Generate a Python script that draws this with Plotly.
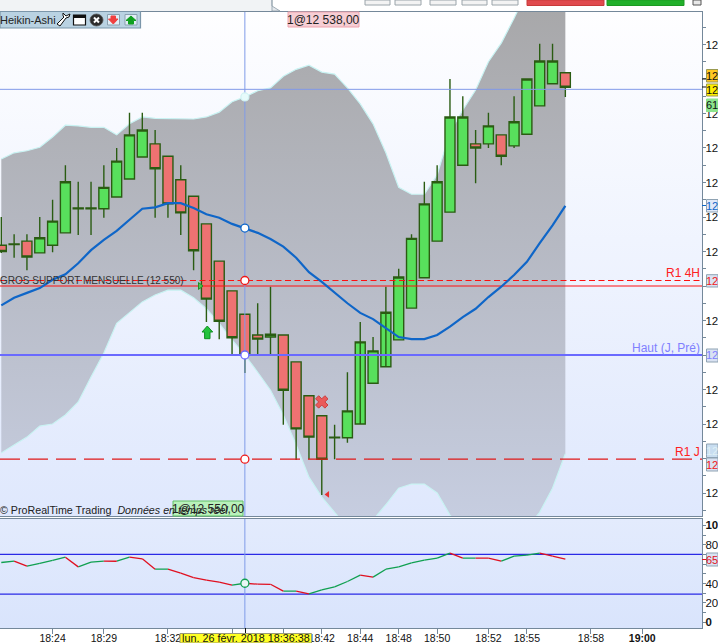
import plotly.graph_objs as go

W = 718
H = 643
FONT = "Liberation Sans"

# candles, left to right
opens = [12555.9, 12556.1, 12556.5, 12554.8, 12555.9, 12557.7, 12561.3, 12561.3, 12561.2, 12562.9, 12565.5, 12568.7, 12570.6, 12568.8, 12565.4, 12563.0, 12559.0, 12553.6, 12549.3, 12545.9, 12542.9, 12542.6, 12542.9, 12539.0, 12534.1, 12531.2, 12528.1, 12528.0, 12530.0, 12535.9, 12538.3, 12542.2, 12546.8, 12551.2, 12556.5, 12560.7, 12567.5, 12570.6, 12570.6, 12571.9, 12570.3, 12572.0, 12576.1, 12579.3, 12580.9]
closes = [12555.0, 12556.0, 12554.2, 12557.0, 12559.4, 12565.1, 12561.2, 12561.2, 12564.3, 12568.1, 12571.9, 12572.6, 12567.0, 12561.9, 12560.6, 12555.1, 12548.1, 12544.9, 12542.5, 12540.0, 12542.3, 12543.0, 12534.9, 12529.3, 12528.1, 12524.9, 12528.0, 12531.9, 12541.9, 12540.6, 12546.2, 12551.3, 12556.9, 12561.9, 12565.1, 12574.5, 12574.5, 12570.0, 12573.2, 12568.8, 12573.8, 12580.0, 12582.6, 12582.6, 12578.8]
highs = [12560.0, 12557.5, 12557.5, 12560.0, 12562.5, 12567.5, 12565.1, 12565.1, 12567.5, 12570.0, 12575.1, 12575.1, 12572.6, 12568.8, 12567.5, 12563.0, 12559.0, 12553.6, 12549.3, 12545.9, 12547.5, 12549.9, 12542.9, 12539.0, 12534.1, 12531.2, 12529.9, 12537.5, 12544.8, 12542.6, 12549.9, 12552.5, 12557.5, 12565.1, 12567.5, 12580.0, 12577.5, 12572.6, 12575.1, 12571.9, 12577.5, 12580.0, 12585.1, 12585.1, 12580.9]
lows = [12554.8, 12554.1, 12552.3, 12554.9, 12554.9, 12557.7, 12557.4, 12557.4, 12559.9, 12562.9, 12565.5, 12568.7, 12559.9, 12559.9, 12557.4, 12552.3, 12544.8, 12542.3, 12540.0, 12537.4, 12540.0, 12540.1, 12529.9, 12524.8, 12524.9, 12519.7, 12524.9, 12527.3, 12541.9, 12535.9, 12546.2, 12542.2, 12546.8, 12551.3, 12556.5, 12560.7, 12567.5, 12564.9, 12570.0, 12567.5, 12570.0, 12572.0, 12576.1, 12579.3, 12577.4]

band_upper = [12568.4, 12569.3, 12569.6, 12570.1, 12571.6, 12573.3, 12573.2, 12573.0, 12573.0, 12571.9, 12573.5, 12574.5, 12574.3, 12574.3, 12574.3, 12574.2, 12574.5, 12575.2, 12576.7, 12577.4, 12578.3, 12578.7, 12580.4, 12581.4, 12582.0, 12581.0, 12580.7, 12578.7, 12576.4, 12573.5, 12569.3, 12564.3, 12563.3, 12563.3, 12566.1, 12572.3, 12575.5, 12578.4, 12582.5, 12585.2, 12588.8, 12592.9, 12596.5, 12599.4, 12603.0]
band_lower = [12525.8, 12527.0, 12528.1, 12529.7, 12530.0, 12531.3, 12533.2, 12536.8, 12540.3, 12544.6, 12546.2, 12547.7, 12548.7, 12549.4, 12549.4, 12548.3, 12546.7, 12544.6, 12542.2, 12540.0, 12537.5, 12534.9, 12531.3, 12527.0, 12522.3, 12519.4, 12517.2, 12514.9, 12513.9, 12516.1, 12518.3, 12520.7, 12521.3, 12521.3, 12520.0, 12516.8, 12514.6, 12513.2, 12512.5, 12512.5, 12513.2, 12514.9, 12517.2, 12520.7, 12525.7]
moving_avg = [12547.2, 12548.3, 12549.0, 12549.7, 12550.9, 12551.7, 12553.3, 12555.2, 12556.7, 12558.0, 12559.6, 12561.2, 12561.4, 12562.0, 12562.0, 12561.3, 12560.4, 12559.9, 12559.0, 12558.4, 12557.7, 12556.8, 12555.7, 12554.1, 12552.0, 12550.6, 12549.0, 12547.5, 12546.1, 12545.2, 12543.9, 12542.6, 12542.3, 12542.3, 12542.9, 12544.1, 12545.5, 12546.7, 12548.4, 12549.9, 12551.6, 12553.5, 12556.2, 12558.8, 12561.6]
rsi = [61.7, 63.1, 57.9, 60.7, 63.8, 67.2, 57.2, 62.1, 63.1, 63.0, 67.2, 65.5, 54.8, 54.9, 50.7, 46.2, 43.4, 41.4, 38.3, 40.3, 39.3, 39.2, 32.1, 32.2, 29.3, 33.4, 36.6, 42.1, 48.6, 46.6, 54.8, 57.2, 61.4, 64.1, 66.2, 71.4, 66.2, 66.3, 66.2, 63.1, 68.3, 69.3, 71.4, 68.3, 65.2]

r1_4h = 12550.8
monthly_support = 12550.0
haut_j = 12540.0
r1_j = 12524.9
cross_price = 12578.5
cross_idx = 19
rsi_levels = [70, 29]

time_idx = [4, 8, 13, 18, 22, 25, 28, 31, 34, 38, 41, 46, 50]
time_labels = ["18:24", "18:29", "18:32", "", "", "18:42", "18:44", "18:48", "18:50", "18:52", "18:55", "18:58", "<b>19:00</b>"]

# labels under the price tags are left blank, the tags carry them
price_ticks = [12517.5 + 2.5 * i for i in range(29)]
tagged = [12580, 12550, 12540, 12525]
price_labels = ["12" if p % 5 == 0 and p not in tagged else "" for p in price_ticks]
rsi_ticks = [0, 10, 20, 30, 40, 50, 60, 70, 80, 90, 100]
rsi_labels = ["<b>0</b>", "", "20", "", "40", "", "", "", "80", "", "<b>10</b>"]

idx = list(range(len(opens)))
x_range = [-0.1014, 54.66]
y_range = [12516.67, 12589.78]
rsi_range = [-5.9, 106.6]
dom_x = [0, 702 / W]
dom_y = [1 - 516 / H, 1 - 11.5 / H]
dom_y2 = [1 - 628 / H, 1 - 519 / H]
AXIS = "#74889a"


def X(px):
    return px / W


def Y(py):
    return 1 - py / H


def box(x0, y0, x1, y1, fill, line=None, lw=1):
    return dict(type="rect", xref="paper", yref="paper", x0=X(x0), x1=X(x1), y0=Y(y0), y1=Y(y1),
                fillcolor=fill, line=dict(color=line or fill, width=lw if line else 0))


def path(points, fill, line=None, lw=1, close=True):
    d = "M " + " L ".join(f"{X(a):.5f},{Y(b):.5f}" for a, b in points) + (" Z" if close else "")
    return dict(type="path", xref="paper", yref="paper", path=d, fillcolor=fill,
                line=dict(color=line or fill, width=lw))


def label(px, py, text, size=12, color="#111111", anchor="left"):
    return dict(xref="paper", yref="paper", x=X(px), y=Y(py), text=text, showarrow=False, xanchor=anchor,
                yanchor="middle", font=dict(family=FONT, size=size, color=color), borderpad=0, borderwidth=0)


def flat(name, x, y, color, width=1, dash="solid"):
    return go.Scatter(x=x, y=y, mode="lines", line=dict(color=color, width=width, dash=dash), name=name,
                      xaxis="x4", yaxis="y4", hoverinfo="skip", showlegend=False)


fig = go.Figure()

# gradient backgrounds
fig.add_trace(go.Scatter(x=[x_range[0], x_range[1], x_range[1], x_range[0]],
                         y=[y_range[0], y_range[0], y_range[1], y_range[1]],
                         mode="lines", fill="toself", line=dict(width=0), hoverinfo="skip", showlegend=False,
                         fillgradient=dict(type="vertical", start=y_range[0], stop=y_range[1],
                                           colorscale=[[0, "#dfe8fd"], [1, "#fefeff"]])))
fig.add_trace(go.Scatter(x=[x_range[0], x_range[1], x_range[1], x_range[0]],
                         y=[rsi_range[0], rsi_range[0], rsi_range[1], rsi_range[1]],
                         mode="lines", fill="toself", line=dict(width=0), hoverinfo="skip", showlegend=False,
                         xaxis="x2", yaxis="y2",
                         fillgradient=dict(type="vertical", start=rsi_range[0], stop=rsi_range[1],
                                           colorscale=[[0, "#d9e4fc"], [1, "#e3ebfd"]])))

# bollinger band
fig.add_trace(go.Scatter(x=idx, y=band_lower, mode="lines", line=dict(color="#c9f3f3", width=1.2),
                         hoverinfo="skip", showlegend=False))
fig.add_trace(go.Scatter(x=idx, y=band_upper, mode="lines", line=dict(color="#c9f3f3", width=1.2),
                         fill="tonexty", hoverinfo="skip", showlegend=False,
                         fillgradient=dict(type="vertical", start=y_range[0], stop=y_range[1],
                                           colorscale=[[0, "#c6cde0"], [1, "#a8a8aa"]])))

# rsi, split in rising / falling parts
up_x, up_y, down_x, down_y = [], [], [], []
for i in idx[:-1]:
    if rsi[i + 1] >= rsi[i]:
        up_x += [i, i + 1, None]
        up_y += [rsi[i], rsi[i + 1], None]
    else:
        down_x += [i, i + 1, None]
        down_y += [rsi[i], rsi[i + 1], None]
for lvl in rsi_levels:
    fig.add_trace(go.Scatter(x=x_range, y=[lvl, lvl], mode="lines", line=dict(color="#2a2ae6", width=1.2),
                             xaxis="x2", yaxis="y2", hoverinfo="skip", showlegend=False))
fig.add_trace(go.Scatter(x=[cross_idx, cross_idx], y=rsi_range, mode="lines", line=dict(color="#7f9be8", width=1),
                         xaxis="x2", yaxis="y2", hoverinfo="skip", showlegend=False))
fig.add_trace(go.Scatter(x=up_x, y=up_y, mode="lines", line=dict(color="#10a050", width=1.3),
                         xaxis="x2", yaxis="y2", hoverinfo="skip", showlegend=False))
fig.add_trace(go.Scatter(x=down_x, y=down_y, mode="lines", line=dict(color="#e01020", width=1.3),
                         xaxis="x2", yaxis="y2", hoverinfo="skip", showlegend=False))
fig.add_trace(go.Scatter(x=[cross_idx], y=[rsi[cross_idx]], mode="markers", xaxis="x2", yaxis="y2",
                         marker=dict(size=8, color="#eaf6f4", line=dict(color="#10a050", width=1.3)),
                         hoverinfo="skip", showlegend=False))

# candles sit on an overlay so they stay above the band
fig.add_trace(go.Candlestick(x=idx, open=opens, high=highs, low=lows, close=closes, xaxis="x3", yaxis="y3",
                             whiskerwidth=0, hoverinfo="skip", showlegend=False,
                             increasing=dict(line=dict(color="#2a5c12", width=1.4), fillcolor="#58e05c"),
                             decreasing=dict(line=dict(color="#2a5c12", width=1.4), fillcolor="#ee7272")))

# levels, crosshair and moving average on top
fig.add_trace(flat("R1 4H", x_range, [r1_4h, r1_4h], "#ff1010", 1.2, "6px,3.5px"))
fig.add_trace(flat("support", x_range, [monthly_support, monthly_support], "#ff1010", 1.2))
fig.add_trace(flat("Haut (J, Pré)", x_range, [haut_j, haut_j], "#6a6aff", 2))
fig.add_trace(flat("R1 J", x_range, [r1_j, r1_j], "#e01818", 1.2, "20px,8px"))
fig.add_trace(flat("cross h", x_range, [cross_price, cross_price], "#8199e8", 1))
fig.add_trace(flat("cross v", [cross_idx, cross_idx], y_range, "#7f9be8", 1))
fig.add_trace(flat("MM", idx, moving_avg, "#0f66c8", 2.2))
fig.add_trace(go.Scatter(x=[cross_idx] * 5,
                         y=[moving_avg[cross_idx], band_upper[cross_idx], haut_j, r1_4h, r1_j],
                         mode="markers", xaxis="x4", yaxis="y4", hoverinfo="skip", showlegend=False,
                         marker=dict(size=8, color=["#ffffff", "#e6fbfb", "#ffffff", "#ffffff", "#ffffff"],
                                     line=dict(color=["#0f66c8", "#d2f3f3", "#6a6aff", "#f01818", "#f01818"], width=1.3))))
fig.add_trace(go.Scatter(x=[25], y=[12533.2], mode="markers", xaxis="x4", yaxis="y4", hoverinfo="skip", showlegend=False,
                         marker=dict(symbol="x", size=11, color="#ea5a5a", line=dict(color="#c84040", width=1))))
fig.add_trace(go.Scatter(x=[25.45], y=[12519.8], mode="markers", xaxis="x4", yaxis="y4", hoverinfo="skip", showlegend=False,
                         marker=dict(symbol="triangle-left", size=6, color="#e83030")))
fig.add_trace(go.Scatter(x=[15.5], y=[12550.0], mode="markers", xaxis="x4", yaxis="y4", hoverinfo="skip", showlegend=False,
                         marker=dict(symbol="triangle-right", size=6, color="#50c050", line=dict(color="#209020", width=1))))

# window furniture in pixels
shapes = [
    box(0, 0, 272, 11, "#f1f3f5"),
    path([(272, 0), (272, 6), (280, 11), (272, 11)], "#e4e8ec", "#8a9aa6", 0.8),
    box(365, 0, 390, 5, "#f3f3f3", "#9aa4aa"),
    box(395, 0, 421, 5, "#f3f3f3", "#9aa4aa"),
    box(430, 0, 456, 5, "#f3f3f3", "#9aa4aa"),
    box(462, 0, 487, 5, "#f3f3f3", "#9aa4aa"),
    box(492, 0, 518, 5, "#f3f3f3", "#9aa4aa"),
    box(527, 0, 604, 5.5, "#e04a4e", "#c83a3a"),
    box(607, 0, 684, 5.5, "#22b02a", "#1c9a22"),
    box(693, 0, 701, 5, "#e8e8e8", "#555555"),
    box(0, 11.5, 140.5, 28, "#b9d2e2", "#7b96aa", 1.2),
    # wrench
    path([(57, 24), (60, 26), (66, 18), (69, 17), (70, 14), (66, 16), (63, 13), (63, 16), (64, 17)], "#ffffff", "#111111", 1),
    # window
    box(73.5, 15, 85.5, 25, "#ffffff", "#111111", 1.2),
    box(73.5, 15, 85.5, 18, "#111111"),
    # close button
    dict(type="circle", xref="paper", yref="paper", x0=X(90), x1=X(103), y0=Y(14), y1=Y(26),
         fillcolor="#2c2c2c", line=dict(color="#555555", width=0.8)),
    path([(94, 17.5), (99, 22.5)], "rgba(0,0,0,0)", "#ffffff", 2, close=False),
    path([(99, 17.5), (94, 22.5)], "rgba(0,0,0,0)", "#ffffff", 2, close=False),
    # order tickets
    box(107.5, 14.5, 119.5, 25, "#e2eef6", "#8aa0b0"),
    path([(111, 16), (115.5, 16), (115.5, 19), (118, 19), (113.3, 24), (108.5, 19), (111, 19)], "#f04040"),
    box(125, 14.5, 137, 25, "#e2eef6", "#8aa0b0"),
    path([(131, 16), (136, 20.5), (133.5, 20.5), (133.5, 24), (128.5, 24), (128.5, 20.5), (126, 20.5)], "#10a020"),
    # order tags
    box(288, 12, 359, 27, "#f6ced4", "#efa2ac"),
    box(173, 501, 243, 516, "#b9f1bb", "#62c266"),
    # buy arrow
    path([(207.3, 326), (212.7, 332), (210, 332), (210, 338.7), (204.6, 338.7), (204.6, 332), (202, 332)],
         "#22c33c", "#0f8f22", 1),
    # date tag
    box(180, 633.5, 311.5, 643, "#ffff22", "#9a9a7a"),
    # crosshair tick
    path([(245.5, 628), (245.5, 633)], "rgba(0,0,0,0)", "#111111", 1, close=False),
    # small ticks beside the price tags
    path([(702, 79), (706, 79)], "rgba(0,0,0,0)", "#111111", 1, close=False),
    path([(702, 87), (706, 87)], "rgba(0,0,0,0)", "#111111", 1, close=False),
    path([(702, 205.5), (706, 205.5)], "rgba(0,0,0,0)", "#0f66c8", 1, close=False),
    path([(702, 559.5), (706, 559.5)], "rgba(0,0,0,0)", "#e01020", 1, close=False),
]

tags = [
    (69.5, 82, "#ffc822", "#9a9a50", "12", "#111111"),
    (84, 96, "#ffee00", "#9a9a50", "12", "#111111"),
    (99, 111.5, "#8ce48c", "#8ce48c", "61", "#111111"),
    (199.5, 212, "#e0e9f8", "#8fa3b3", "12", "#0f66c8"),
    (274.7, 287, "#d9e2f2", "#8fa3b3", "12", "#f01818"),
    (349, 362, "#d9e2f2", "#8fa3b3", "12", "#8080ff"),
    (444, 457.5, "#c8ddf0", "#8fa3b3", "12", "#dff0f6"),
    (458, 471, "#d9e2f2", "#8fa3b3", "12", "#f01818"),
    (553, 566, "#d9e2f2", "#8fa3b3", "65", "#e01020"),
]
annotations = [
    label(0, 280, "GROS SUPPORT MENSUELLE (12 550)", 10, "#333333"),
    label(700, 272.5, "R1 4H", 12, "#ff2020", "right"),
    label(700, 348, "Haut (J, Pré)", 12, "#8080ff", "right"),
    label(700, 451.5, "R1 J", 12, "#ff2020", "right"),
    label(0, 510, "© ProRealTime Trading  <i>Données en temps réel</i>", 10.7, "#222222"),
    label(0, 19.5, "Heikin-Ashi", 11, "#222222"),
    label(323.5, 19.5, "1@12 538,00", 12, "#222222", "center"),
    label(208, 508.5, "1@12 550,00", 12, "#222222", "center"),
    label(245.7, 637.5, "lun. 26 févr. 2018 18:36:38", 10.8, "#111111", "center"),
]
for y0, y1, fill, border, text, color in tags:
    shapes.append(box(706.5, y0, 718, y1, fill, border))
    annotations.append(label(718, (y0 + y1) / 2, text, 11, color, "right"))

hidden = dict(visible=False, fixedrange=True)
fig.update_layout(
    width=W, height=H, margin=dict(l=0, r=0, t=0, b=0), autosize=False,
    paper_bgcolor="#ffffff", plot_bgcolor="#ffffff", showlegend=False, boxgap=0.22, boxgroupgap=0,
    font=dict(family=FONT, size=12, color="#111111"),
    xaxis=dict(domain=dom_x, range=x_range, anchor="y", showgrid=False, zeroline=False, showticklabels=False,
               ticks="", showline=True, linecolor=AXIS, linewidth=1.3, mirror=True),
    yaxis=dict(domain=dom_y, range=y_range, anchor="x", side="right", showgrid=False, zeroline=False,
               tickmode="array", tickvals=price_ticks, ticktext=price_labels, ticks="outside", ticklen=3,
               ticklabelstandoff=-3, tickcolor=AXIS, showline=True, linecolor=AXIS, linewidth=1.3,
               tickfont=dict(size=11.5)),
    xaxis2=dict(domain=dom_x, range=x_range, anchor="y2", showgrid=False, zeroline=False,
                tickmode="array", tickvals=time_idx, ticktext=time_labels, ticks="outside", ticklen=5,
                ticklabelstandoff=-5, tickcolor=AXIS, showline=True, linecolor=AXIS, linewidth=1.3, mirror=True,
                tickfont=dict(size=10.5)),
    yaxis2=dict(domain=dom_y2, range=rsi_range, anchor="x2", side="right", showgrid=False, zeroline=False,
                tickmode="array", tickvals=rsi_ticks, ticktext=rsi_labels, ticks="outside", ticklen=3,
                ticklabelstandoff=-3, tickcolor=AXIS, showline=True, linecolor=AXIS, linewidth=1.3,
                tickfont=dict(size=11.5)),
    xaxis3=dict(hidden, domain=dom_x, range=x_range, overlaying="x", anchor="y3", rangeslider=dict(visible=False)),
    yaxis3=dict(hidden, domain=dom_y, range=y_range, overlaying="y", anchor="x3"),
    xaxis4=dict(hidden, domain=dom_x, range=x_range, overlaying="x", anchor="y4"),
    yaxis4=dict(hidden, domain=dom_y, range=y_range, overlaying="y", anchor="x4"),
    shapes=shapes, annotations=annotations,
)

fig.write_html("out.html", config=dict(displayModeBar=False),
               post_script="document.body.style.margin='0';document.body.style.overflow='hidden';")
